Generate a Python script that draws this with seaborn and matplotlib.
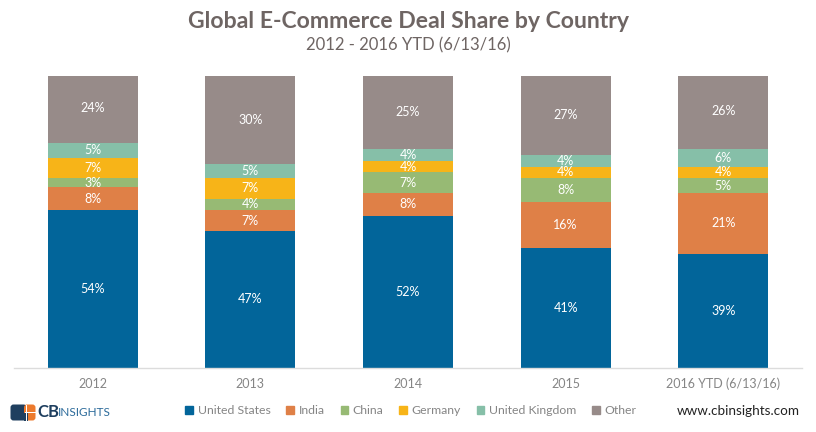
import numpy as np
import pandas as pd
import matplotlib.pyplot as plt
import matplotlib.patches as mpatches
import seaborn as sns

# chart data (percent of deals)
years = ['2012', '2013', '2014', '2015', '2016 YTD (6/13/16)']
countries = ['United States', 'India', 'China', 'Germany', 'United Kingdom', 'Other']
us = [54, 47, 52, 41, 39]
india = [8, 7, 8, 16, 21]
china = [3, 4, 7, 8, 5]
germany = [7, 7, 4, 4, 4]
uk = [5, 5, 4, 4, 6]
other = [24, 30, 25, 27, 26]

colors = ['#02659a', '#df8047', '#97ba74', '#f7b418', '#86bfa8', '#978b89']
grey_text = '#858585'

sns.set_theme(style='white')
plt.rcParams['font.family'] = ['Lato', 'DejaVu Sans']

df = pd.DataFrame({'year': years, 'United States': us, 'India': india, 'China': china,
                   'Germany': germany, 'United Kingdom': uk, 'Other': other})
cum = df[countries].cumsum(axis=1)

fig = plt.figure(figsize=(8.16, 4.32), dpi=100)
ax = fig.add_axes([14 / 816, 64 / 432, 788 / 816, 292 / 432])

# stacked look: draw cumulative totals from the top layer down
for c, col in reversed(list(zip(countries, colors))):
    sns.barplot(x=df['year'], y=cum[c], color=col, width=0.57, saturation=1,
                ax=ax, linewidth=0)

# segment labels
for i in range(len(years)):
    bottom = 0
    for c in countries:
        v = df.loc[i, c]
        ax.text(i, bottom + v / 2, f'{v}%', ha='center', va='center',
                color='white', fontsize=9)
        bottom += v

ax.set_ylim(0, 100)
ax.set_xlim(-0.5, len(years) - 0.5)
ax.set_xlabel('')
ax.set_ylabel('')
ax.set_yticks([])
for s in ['top', 'left', 'right']:
    ax.spines[s].set_visible(False)
ax.spines['bottom'].set_color('#dcdcdc')
ax.spines['bottom'].set_linewidth(1)
ax.tick_params(axis='x', length=0, pad=7, labelsize=9, labelcolor=grey_text)

fig.text(0.5, 1 - 22 / 432, 'Global E-Commerce Deal Share by Country', ha='center',
         va='center', fontsize=16.6, fontweight='bold', color='#6e6563')
fig.text(0.5, 1 - 45 / 432, '2012 - 2016 YTD (6/13/16)', ha='center', va='center',
         fontsize=12, color='#6e6563')

handles = [mpatches.Patch(color=col, label=c) for c, col in zip(countries, colors)]
leg = fig.legend(handles=handles, loc='center', bbox_to_anchor=(411 / 816, 1 - 411 / 432),
                 ncol=6, frameon=False, fontsize=8.8, handlelength=0.6, handleheight=0.6,
                 handletextpad=0.4, columnspacing=1.3)
for t in leg.get_texts():
    t.set_color(grey_text)

fig.text(800 / 816, 1 - 411 / 432, 'www.cbinsights.com', ha='right', va='center',
         fontsize=9.7, color='#222222')

# CB Insights logo
logo = fig.add_axes([10 / 816, 1 - 421 / 432, 26 / 816, 17 / 432])
logo.set_xlim(0, 26)
logo.set_ylim(0, 17)
logo.axis('off')
logo.add_patch(mpatches.FancyBboxPatch((0.5, 0.5), 16, 16, boxstyle='round,pad=0,rounding_size=3',
                                       color='#1f3f5f', lw=0))
logo.add_patch(mpatches.FancyBboxPatch((14, 0.5), 11.5, 16, boxstyle='round,pad=0,rounding_size=3',
                                       color='#ec7a2d', lw=0))
logo.add_patch(mpatches.Rectangle((14, 0.5), 4, 8, color='#1f3f5f', lw=0))
logo.add_patch(mpatches.Rectangle((15, 8.2), 11, 1.2, color='white', lw=0))
logo.add_patch(mpatches.Rectangle((15.5, 0.5), 1.2, 16, color='white', lw=0))
fig.text(37 / 816, 1 - 412 / 432, 'CB', ha='left', va='center', fontsize=12,
         fontweight='bold', color='#1f3f5f')
fig.text(58 / 816, 1 - 413 / 432, 'INSIGHTS', ha='left', va='center', fontsize=8.5,
         color='#2b6a9a')

fig.savefig('out.png', dpi=100)
